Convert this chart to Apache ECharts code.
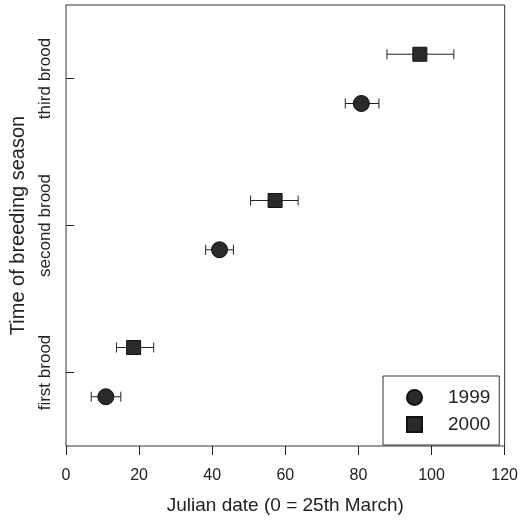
<!DOCTYPE html>
<html>
<head>
<meta charset="utf-8">
<script src="https://cdn.jsdelivr.net/npm/echarts@6/dist/echarts.min.js"></script>
<style>html,body{margin:0;padding:0;background:#fff}#c{width:521px;height:520px}</style>
</head>
<body>
<div id="c"></div>
<script>
const broodLabels = ['first brood', 'second brood', 'third brood'];
const broodTicks = [1, 2, 3];
const xTicks = [0, 20, 40, 60, 80, 100, 120];
// 1999
const mean1999 = [10.9, 42.0, 80.8];
const low1999 = [6.9, 38.2, 76.4];
const high1999 = [15.0, 45.8, 85.6];
const y1999 = [0.835, 1.835, 2.83];
// 2000
const mean2000 = [18.5, 57.2, 96.8];
const low2000 = [13.8, 50.5, 87.8];
const high2000 = [24.0, 63.5, 106.1];
const y2000 = [1.17, 2.17, 3.165];

const FONT = 'Liberation Sans, Arial, Helvetica, sans-serif';
const INK = '#222';

function pts(m, y) { return m.map((v, i) => [v, y[i]]); }
function bars(l, h, y) { return l.map((v, i) => [v, h[i], y[i]]); }

function errRender(params, api) {
  const p1 = api.coord([api.value(0), api.value(2)]);
  const p2 = api.coord([api.value(1), api.value(2)]);
  const cap = 5;
  const st = { stroke: '#222', lineWidth: 1 };
  return {
    type: 'group',
    children: [
      { type: 'line', shape: { x1: p1[0], y1: p1[1], x2: p2[0], y2: p2[1] }, style: st },
      { type: 'line', shape: { x1: p1[0], y1: p1[1] - cap, x2: p1[0], y2: p1[1] + cap }, style: st },
      { type: 'line', shape: { x1: p2[0], y1: p2[1] - cap, x2: p2[0], y2: p2[1] + cap }, style: st }
    ]
  };
}

const chart = echarts.init(document.getElementById('c'), null, { renderer: 'canvas' });
chart.setOption({
  animation: false,
  backgroundColor: '#fff',
  textStyle: { fontFamily: FONT },
  grid: { left: 66, right: 15, top: 5, bottom: 74, show: true, borderColor: '#333', borderWidth: 1 },
  xAxis: {
    type: 'value', min: 0, max: 120, interval: 20,
    name: 'Julian date (0 = 25th March)', nameLocation: 'middle', nameGap: 50,
    nameTextStyle: { fontSize: 19, color: INK, fontFamily: FONT },
    axisLine: { show: false },
    axisTick: { show: true, length: 9, lineStyle: { color: '#222' } },
    axisLabel: { fontSize: 16, color: INK, margin: 22, fontFamily: FONT, formatter: v => xTicks.includes(v) ? String(v) : '' },
    splitLine: { show: false }
  },
  yAxis: {
    type: 'value', min: 0.5, max: 3.5,
    name: 'Time of breeding season', nameLocation: 'middle', nameGap: 38,
    nameTextStyle: { fontSize: 20, color: INK, fontFamily: FONT },
    axisLine: { show: false },
    axisTick: { show: true, inside: true, length: 8, customValues: broodTicks, lineStyle: { color: '#222' } },
    axisLabel: { show: true, rotate: 90, fontSize: 17, color: INK, margin: 12, fontFamily: FONT,
      customValues: broodTicks, formatter: v => broodLabels[Math.round(v) - 1] || '' },
    splitLine: { show: false }
  },
  legend: {
    orient: 'vertical', left: 383, top: 376,
    borderColor: '#333', borderWidth: 1, borderRadius: 0,
    padding: [12, 9, 11, 23],
    itemWidth: 15, itemHeight: 15, itemGap: 8,
    textStyle: { fontSize: 19, lineHeight: 15, color: INK, fontFamily: FONT, padding: [0, 0, 0, 21] },
    data: ['1999', '2000']
  },
  series: [
    { type: 'custom', name: 'err1999', renderItem: errRender, data: bars(low1999, high1999, y1999), z: 1, encode: { x: [0, 1], y: 2 } },
    { type: 'custom', name: 'err2000', renderItem: errRender, data: bars(low2000, high2000, y2000), z: 1, encode: { x: [0, 1], y: 2 } },
    { type: 'scatter', name: '1999', symbol: 'circle', symbolSize: 16, data: pts(mean1999, y1999), z: 3,
      itemStyle: { color: '#2a2a2a', borderColor: '#111', borderWidth: 1, opacity: 1 } },
    { type: 'scatter', name: '2000', symbol: 'rect', symbolSize: 14, data: pts(mean2000, y2000), z: 3,
      itemStyle: { color: '#2a2a2a', borderColor: '#111', borderWidth: 1, opacity: 1 } }
  ]
});
</script>
</body>
</html>
